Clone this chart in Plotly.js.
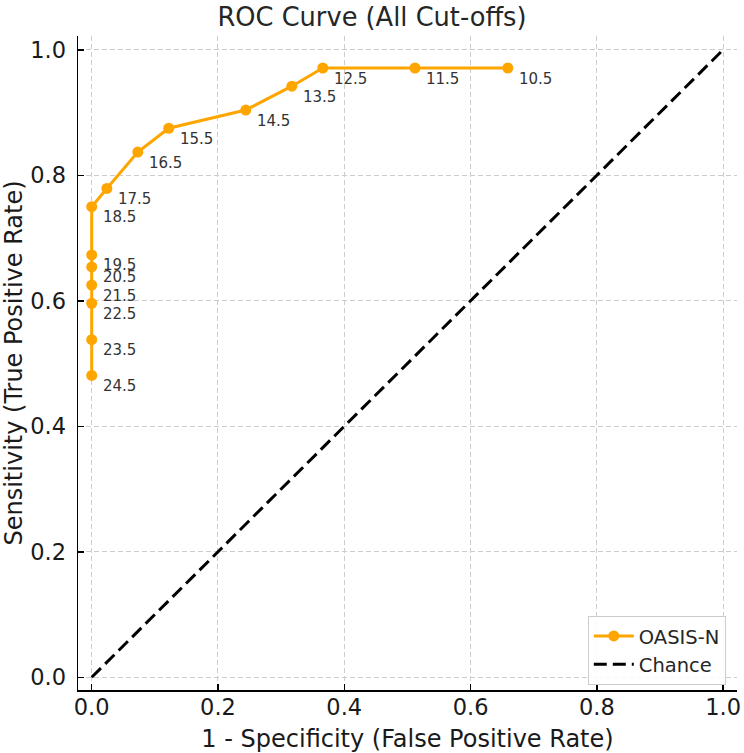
<!DOCTYPE html>
<html>
<head>
<meta charset="utf-8">
<script src="https://cdn.plot.ly/plotly-3.0.1.min.js"></script>
<style>html,body{margin:0;padding:0;background:#fff;}#chart{width:744px;height:753px;}</style>
</head>
<body>
<div id="chart"></div>
<script>
// Data
const cutoffs = ["24.5","23.5","22.5","21.5","20.5","19.5","18.5","17.5","16.5","15.5","14.5","13.5","12.5","11.5","10.5"];
const fpr = [0.000, 0.000, 0.000, 0.000, 0.000, 0.000, 0.000, 0.024, 0.073, 0.122, 0.244, 0.317, 0.366, 0.512, 0.659];
const tpr = [0.481, 0.538, 0.596, 0.625, 0.654, 0.673, 0.750, 0.779, 0.837, 0.875, 0.904, 0.942, 0.971, 0.971, 0.971];
const chanceX = [0, 1];
const chanceY = [0, 1];
const tickVals = [0, 0.2, 0.4, 0.6, 0.8, 1.0];
const tickText = ["0.0", "0.2", "0.4", "0.6", "0.8", "1.0"];

const FONT = "DejaVu Sans, sans-serif";

const traces = [
  {
    x: fpr, y: tpr, type: "scatter", mode: "lines+markers", name: "OASIS-N",
    line: {color: "#FFA500", width: 3},
    marker: {color: "#FFA500", size: 11},
    cliponaxis: false
  },
  {
    x: chanceX, y: chanceY, type: "scatter", mode: "lines", name: "Chance",
    line: {color: "#000000", width: 3, dash: "13px,6px"}
  }
];

const annotations = cutoffs.map((c, i) => ({
  x: fpr[i], y: tpr[i], xref: "x", yref: "y", text: c, showarrow: false,
  xanchor: "left", yanchor: "middle", xshift: 9, yshift: -10.5,
  font: {family: FONT, size: 15, color: "#333333"}
}));

const axisCommon = {
  tickvals: tickVals, ticktext: tickText,
  showgrid: true, gridcolor: "#cccccc", gridwidth: 1, griddash: "5px,3px",
  zeroline: false, showline: true, linecolor: "#000000", linewidth: 1.5,
  mirror: false, ticks: "inside", ticklen: 6, tickwidth: 1.5, tickcolor: "#000000",
  tickfont: {family: FONT, size: 22.5, color: "#1a1a1a"}
};

const layout = {
  width: 744, height: 753,
  margin: {l: 78, r: 7, t: 36, b: 63},
  paper_bgcolor: "#ffffff", plot_bgcolor: "#ffffff",
  font: {family: FONT, color: "#1a1a1a"},
  title: {text: "ROC Curve (All Cut-offs)", font: {family: FONT, size: 25.7, color: "#262626"},
          x: 0.5, xanchor: "center", y: 0.977, yanchor: "middle"},
  xaxis: Object.assign({}, axisCommon, {
    range: [-0.0217, 1.022],
    ticklabelstandoff: -4,
    title: {text: "1 - Specificity (False Positive Rate)", font: {family: FONT, size: 24, color: "#1a1a1a"}, standoff: 12}
  }),
  yaxis: Object.assign({}, axisCommon, {
    range: [-0.0203, 1.022],
    ticklabelstandoff: 6,
    title: {text: "Sensitivity (True Positive Rate)", font: {family: FONT, size: 24, color: "#1a1a1a"}, standoff: 6}
  }),
  legend: {
    x: 0.983, y: 0.008, xanchor: "right", yanchor: "bottom",
    bgcolor: "rgba(255,255,255,0.85)", bordercolor: "#cccccc", borderwidth: 1,
    font: {family: FONT, size: 19.5, color: "#262626"},
    itemwidth: 40
  },
  showlegend: true,
  annotations: annotations
};

Plotly.newPlot("chart", traces, layout, {displayModeBar: false, staticPlot: true});
</script>
</body>
</html>
